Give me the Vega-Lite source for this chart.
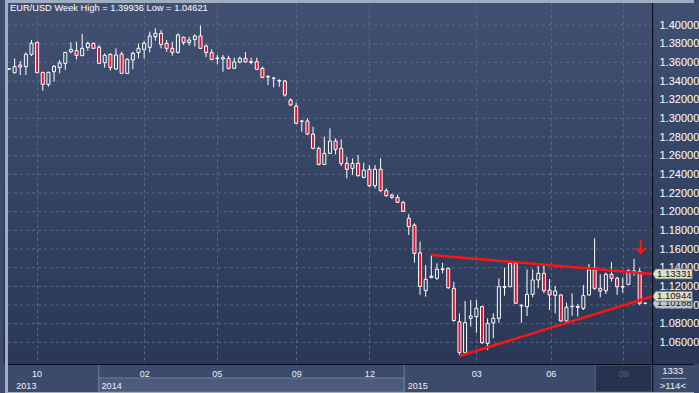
{
"$schema":"https://vega.github.io/schema/vega-lite/v6.json",
"width":696,"height":361,
"autosize":{"type":"none"},
"padding":{"left":3,"top":3,"right":0,"bottom":29},
"background":"#3c4b6b",
"config":{"view":{"stroke":null,"fill":{"gradient":"linear","x1":0,"y1":0,"x2":0,"y2":1,"stops":[{"offset":0,"color":"#415071"},{"offset":1,"color":"#2a3756"}]}},"font":"Liberation Sans",
 "axisX":{"grid":true,"gridDash":[3,3],"gridColor":"#5a6989","gridWidth":1,"ticks":false,"tickSize":0,"domain":false,"labelPadding":9,"labelBaseline":"middle","labelFontSize":9,"labelFont":"Liberation Sans","labelColor":"#eef1f7","labelFlush":false,"labelOverlap":false},
 "axisY":{"labelAlign":"left","labelBaseline":"middle","labelPadding":0,"tickSize":0,"ticks":false,"domain":false,"grid":false,"labelFontSize":11,"labelFont":"Liberation Sans","labelColor":"#ffffff","labelOverlap":false}},
"datasets":{
"k":[
{"i":0,"o":1.3527,"h":1.3533,"l":1.3525,"c":1.3531},
{"i":1,"o":1.3489,"h":1.3643,"l":1.3482,"c":1.3554},
{"i":2,"o":1.3571,"h":1.3614,"l":1.3464,"c":1.3550},
{"i":3,"o":1.3554,"h":1.3707,"l":1.3464,"c":1.3686},
{"i":4,"o":1.3686,"h":1.3839,"l":1.3668,"c":1.3804},
{"i":5,"o":1.3814,"h":1.3821,"l":1.3482,"c":1.3489},
{"i":6,"o":1.3493,"h":1.3493,"l":1.3296,"c":1.3364},
{"i":7,"o":1.3364,"h":1.3500,"l":1.3339,"c":1.3493},
{"i":8,"o":1.3500,"h":1.3571,"l":1.3393,"c":1.3557},
{"i":9,"o":1.3543,"h":1.3625,"l":1.3482,"c":1.3593},
{"i":10,"o":1.3589,"h":1.3707,"l":1.3518,"c":1.3707},
{"i":11,"o":1.3714,"h":1.3814,"l":1.3696,"c":1.3739},
{"i":12,"o":1.3725,"h":1.3821,"l":1.3632,"c":1.3675},
{"i":13,"o":1.3671,"h":1.3904,"l":1.3668,"c":1.3750},
{"i":14,"o":1.3761,"h":1.3821,"l":1.3725,"c":1.3804},
{"i":15,"o":1.3804,"h":1.3811,"l":1.3750,"c":1.3750},
{"i":16,"o":1.3761,"h":1.3786,"l":1.3582,"c":1.3589},
{"i":17,"o":1.3596,"h":1.3696,"l":1.3543,"c":1.3675},
{"i":18,"o":1.3686,"h":1.3696,"l":1.3511,"c":1.3546},
{"i":19,"o":1.3529,"h":1.3750,"l":1.3518,"c":1.3679},
{"i":20,"o":1.3689,"h":1.3714,"l":1.3482,"c":1.3482},
{"i":21,"o":1.3482,"h":1.3643,"l":1.3482,"c":1.3632},
{"i":22,"o":1.3625,"h":1.3714,"l":1.3525,"c":1.3696},
{"i":23,"o":1.3704,"h":1.3804,"l":1.3643,"c":1.3750},
{"i":24,"o":1.3739,"h":1.3829,"l":1.3643,"c":1.3804},
{"i":25,"o":1.3761,"h":1.3929,"l":1.3707,"c":1.3882},
{"i":26,"o":1.3875,"h":1.3964,"l":1.3832,"c":1.3911},
{"i":27,"o":1.3911,"h":1.3946,"l":1.3750,"c":1.3793},
{"i":28,"o":1.3804,"h":1.3839,"l":1.3714,"c":1.3750},
{"i":29,"o":1.3750,"h":1.3821,"l":1.3671,"c":1.3707},
{"i":30,"o":1.3707,"h":1.3911,"l":1.3693,"c":1.3893},
{"i":31,"o":1.3868,"h":1.3875,"l":1.3786,"c":1.3814},
{"i":32,"o":1.3814,"h":1.3875,"l":1.3779,"c":1.3839},
{"i":33,"o":1.3846,"h":1.3900,"l":1.3768,"c":1.3882},
{"i":34,"o":1.3882,"h":1.39936,"l":1.3743,"c":1.3750},
{"i":35,"o":1.3775,"h":1.3793,"l":1.3657,"c":1.3704},
{"i":36,"o":1.3704,"h":1.3739,"l":1.3621,"c":1.3632},
{"i":37,"o":1.3639,"h":1.3679,"l":1.3579,"c":1.3646},
{"i":38,"o":1.3636,"h":1.3679,"l":1.3500,"c":1.3650},
{"i":39,"o":1.3643,"h":1.3671,"l":1.3525,"c":1.3536},
{"i":40,"o":1.3536,"h":1.3650,"l":1.3529,"c":1.3604},
{"i":41,"o":1.3604,"h":1.3661,"l":1.3589,"c":1.3643},
{"i":42,"o":1.3643,"h":1.3711,"l":1.3596,"c":1.3604},
{"i":43,"o":1.3607,"h":1.3650,"l":1.3579,"c":1.3600},
{"i":44,"o":1.3607,"h":1.3650,"l":1.3518,"c":1.3525},
{"i":45,"o":1.3536,"h":1.3554,"l":1.3429,"c":1.3439},
{"i":46,"o":1.3448,"h":1.3464,"l":1.3357,"c":1.3443},
{"i":47,"o":1.3432,"h":1.3439,"l":1.3332,"c":1.3429},
{"i":48,"o":1.3407,"h":1.3418,"l":1.3339,"c":1.3400},
{"i":49,"o":1.3400,"h":1.3411,"l":1.3232,"c":1.3250},
{"i":50,"o":1.3196,"h":1.3214,"l":1.3136,"c":1.3143},
{"i":51,"o":1.3132,"h":1.3168,"l":1.2939,"c":1.2946},
{"i":52,"o":1.2971,"h":1.2982,"l":1.2857,"c":1.2968},
{"i":53,"o":1.2971,"h":1.3000,"l":1.2821,"c":1.2832},
{"i":54,"o":1.2832,"h":1.2911,"l":1.2668,"c":1.2679},
{"i":55,"o":1.2679,"h":1.2696,"l":1.2496,"c":1.2507},
{"i":56,"o":1.2507,"h":1.2804,"l":1.2500,"c":1.2625},
{"i":57,"o":1.2625,"h":1.2893,"l":1.2618,"c":1.2757},
{"i":58,"o":1.2757,"h":1.2786,"l":1.2614,"c":1.2668},
{"i":59,"o":1.2679,"h":1.2775,"l":1.2489,"c":1.2518},
{"i":60,"o":1.2518,"h":1.2589,"l":1.2357,"c":1.2454},
{"i":61,"o":1.2464,"h":1.2571,"l":1.2393,"c":1.2518},
{"i":62,"o":1.2518,"h":1.2607,"l":1.2375,"c":1.2386},
{"i":63,"o":1.2368,"h":1.2525,"l":1.2357,"c":1.2446},
{"i":64,"o":1.2454,"h":1.2500,"l":1.2261,"c":1.2279},
{"i":65,"o":1.2279,"h":1.2500,"l":1.2250,"c":1.2454},
{"i":66,"o":1.2454,"h":1.2571,"l":1.2214,"c":1.2225},
{"i":67,"o":1.2225,"h":1.2251,"l":1.2161,"c":1.2172},
{"i":68,"o":1.2177,"h":1.2193,"l":1.2136,"c":1.2154},
{"i":69,"o":1.2154,"h":1.2184,"l":1.2097,"c":1.2100},
{"i":70,"o":1.2100,"h":1.2116,"l":1.1995,"c":1.2004},
{"i":71,"o":1.1929,"h":1.1976,"l":1.1751,"c":1.1840},
{"i":72,"o":1.1856,"h":1.1876,"l":1.1454,"c":1.1554},
{"i":73,"o":1.1559,"h":1.1680,"l":1.1108,"c":1.1200},
{"i":74,"o":1.1154,"h":1.1429,"l":1.1090,"c":1.1276},
{"i":75,"o":1.1296,"h":1.1536,"l":1.1286,"c":1.1310},
{"i":76,"o":1.1286,"h":1.1447,"l":1.1269,"c":1.1383},
{"i":77,"o":1.1388,"h":1.1452,"l":1.1340,"c":1.1380},
{"i":78,"o":1.1393,"h":1.1400,"l":1.1172,"c":1.1186},
{"i":79,"o":1.1179,"h":1.1250,"l":1.0822,"c":1.0833},
{"i":80,"o":1.0822,"h":1.0911,"l":1.04621,"c":1.0490},
{"i":81,"o":1.0490,"h":1.1044,"l":1.0483,"c":1.0811},
{"i":82,"o":1.0858,"h":1.1054,"l":1.0769,"c":1.0883},
{"i":83,"o":1.0876,"h":1.1054,"l":1.0704,"c":1.0965},
{"i":84,"o":1.0983,"h":1.0990,"l":1.0583,"c":1.0597},
{"i":85,"o":1.0590,"h":1.0858,"l":1.0519,"c":1.0804},
{"i":86,"o":1.0811,"h":1.0911,"l":1.0644,"c":1.0858},
{"i":87,"o":1.0858,"h":1.1286,"l":1.0811,"c":1.1197},
{"i":88,"o":1.1190,"h":1.1400,"l":1.1100,"c":1.1197},
{"i":89,"o":1.1197,"h":1.1454,"l":1.1190,"c":1.1447},
{"i":90,"o":1.1447,"h":1.1454,"l":1.1011,"c":1.1019},
{"i":91,"o":1.0992,"h":1.1011,"l":1.0811,"c":1.0997},
{"i":92,"o":1.0983,"h":1.1383,"l":1.0883,"c":1.1115},
{"i":93,"o":1.1115,"h":1.1383,"l":1.1083,"c":1.1269},
{"i":94,"o":1.1269,"h":1.1419,"l":1.1179,"c":1.1340},
{"i":95,"o":1.1340,"h":1.1429,"l":1.1126,"c":1.1154},
{"i":96,"o":1.1161,"h":1.1279,"l":1.0947,"c":1.1108},
{"i":97,"o":1.1104,"h":1.1204,"l":1.0911,"c":1.1151},
{"i":98,"o":1.1108,"h":1.1115,"l":1.0822,"c":1.0829},
{"i":99,"o":1.0829,"h":1.1026,"l":1.0822,"c":1.0976},
{"i":100,"o":1.0983,"h":1.1126,"l":1.0883,"c":1.0987},
{"i":101,"o":1.0985,"h":1.1011,"l":1.0876,"c":1.0976},
{"i":102,"o":1.0965,"h":1.1215,"l":1.0947,"c":1.1101},
{"i":103,"o":1.1108,"h":1.1439,"l":1.1101,"c":1.1376},
{"i":104,"o":1.1376,"h":1.1715,"l":1.1161,"c":1.1179},
{"i":105,"o":1.1179,"h":1.1329,"l":1.1083,"c":1.1151},
{"i":106,"o":1.1154,"h":1.1347,"l":1.1119,"c":1.1329},
{"i":107,"o":1.1329,"h":1.1458,"l":1.1251,"c":1.1286},
{"i":108,"o":1.1286,"h":1.1304,"l":1.1108,"c":1.1197},
{"i":109,"o":1.1197,"h":1.1297,"l":1.1133,"c":1.1194},
{"i":110,"o":1.1222,"h":1.1383,"l":1.1215,"c":1.1369},
{"i":111,"o":1.1365,"h":1.1495,"l":1.1315,"c":1.1350},
{"i":112,"o":1.1358,"h":1.1394,"l":1.1001,"c":1.1019},
{"i":113,"o":1.1019,"h":1.1025,"l":1.1015,"c":1.10188}
],
"g":[{"p":1.06},{"p":1.08},{"p":1.10},{"p":1.12},{"p":1.14},{"p":1.16},{"p":1.18},{"p":1.20},{"p":1.22},{"p":1.24},{"p":1.26},{"p":1.28},{"p":1.30},{"p":1.32},{"p":1.34},{"p":1.36},{"p":1.38},{"p":1.40}],
"t":[{"line":"upper","i":75,"p":1.1536},{"line":"upper","i":114.3,"p":1.13331},{"line":"lower","i":80,"p":1.0454},{"line":"lower","i":114.3,"p":1.10944}],
"ptag":[{"p":1.10188,"label":"1.10188"}],
"ttag":[{"p":1.13331,"label":"1.13331"},{"p":1.10944,"label":"1.10944"}]
},
"layer":[
{"data":{"name":"g"},"mark":{"type":"rule","color":"#5a6989","strokeDash":[3,3],"strokeWidth":1},
 "encoding":{"x":{"datum":-0.175,"type":"quantitative","scale":{"domain":[-0.175,121.65],"nice":false,"zero":false},"axis":{"orient":"bottom","title":null,"values":[4.9,24,36.9,51,64,83,96.2,109.1],"labelExpr":"['10','02','05','09','12','03','06','09'][round(datum.index*7)]"}},
  "x2":{"datum":114.2},
  "y":{"field":"p","type":"quantitative","scale":{"domain":[1.03685,1.42357],"nice":false,"zero":false},"axis":{"orient":"right","offset":-40,"title":null,"format":".5f","values":[1.06,1.08,1.10,1.12,1.14,1.16,1.18,1.20,1.22,1.24,1.26,1.28,1.30,1.32,1.34,1.36,1.38,1.40]}}}},
{"data":{"name":"k"},"mark":{"type":"rule","color":"#ffffff","strokeWidth":1},
 "encoding":{"x":{"field":"i","type":"quantitative","scale":{"domain":[-0.175,121.65],"nice":false,"zero":false},"axis":{"orient":"bottom","title":null,"values":[4.9,24,36.9,51,64,83,96.2,109.1],"labelExpr":"['10','02','05','09','12','03','06','09'][round(datum.index*7)]"}},
  "y":{"field":"l","type":"quantitative","scale":{"domain":[1.03685,1.42357],"nice":false,"zero":false},"axis":{"orient":"right","offset":-40,"title":null,"format":".5f","values":[1.06,1.08,1.10,1.12,1.14,1.16,1.18,1.20,1.22,1.24,1.26,1.28,1.30,1.32,1.34,1.36,1.38,1.40]}},
  "y2":{"field":"h"}}},
{"data":{"name":"k"},"mark":{"type":"bar","width":3,"stroke":"#ffffff","strokeWidth":1},
 "encoding":{"x":{"field":"i","type":"quantitative","scale":{"domain":[-0.175,121.65],"nice":false,"zero":false},"axis":{"orient":"bottom","title":null,"values":[4.9,24,36.9,51,64,83,96.2,109.1],"labelExpr":"['10','02','05','09','12','03','06','09'][round(datum.index*7)]"}},
  "y":{"field":"o","type":"quantitative","scale":{"domain":[1.03685,1.42357],"nice":false,"zero":false},"axis":{"orient":"right","offset":-40,"title":null,"format":".5f","values":[1.06,1.08,1.10,1.12,1.14,1.16,1.18,1.20,1.22,1.24,1.26,1.28,1.30,1.32,1.34,1.36,1.38,1.40]}},
  "y2":{"field":"c"},
  "fill":{"condition":{"test":"datum.c < datum.o","value":"#e3122f"},"field":"o","type":"quantitative","scale":{"domain":[1.03685,1.42357],"range":["#2a3756","#415071"]},"legend":null}}},
{"data":{"name":"t"},"mark":{"type":"line","color":"#ff1414","strokeWidth":2.5},
 "encoding":{"x":{"field":"i","type":"quantitative","scale":{"domain":[-0.175,121.65],"nice":false,"zero":false},"axis":{"orient":"bottom","title":null,"values":[4.9,24,36.9,51,64,83,96.2,109.1],"labelExpr":"['10','02','05','09','12','03','06','09'][round(datum.index*7)]"}},
  "y":{"field":"p","type":"quantitative","scale":{"domain":[1.03685,1.42357],"nice":false,"zero":false},"axis":{"orient":"right","offset":-40,"title":null,"format":".5f","values":[1.06,1.08,1.10,1.12,1.14,1.16,1.18,1.20,1.22,1.24,1.26,1.28,1.30,1.32,1.34,1.36,1.38,1.40]}},
  "detail":{"field":"line"}}},
{"data":{"values":[{"i":112.2,"p":1.1629}]},"mark":{"type":"point","shape":"M0,-1L0,0.9M-0.7,0.3L0,1L0.7,0.3","size":170,"filled":false,"stroke":"#ff1414","strokeWidth":2.2,"opacity":1},
 "encoding":{"x":{"field":"i","type":"quantitative","scale":{"domain":[-0.175,121.65],"nice":false,"zero":false},"axis":{"orient":"bottom","title":null,"values":[4.9,24,36.9,51,64,83,96.2,109.1],"labelExpr":"['10','02','05','09','12','03','06','09'][round(datum.index*7)]"}},
  "y":{"field":"p","type":"quantitative","scale":{"domain":[1.03685,1.42357],"nice":false,"zero":false},"axis":{"orient":"right","offset":-40,"title":null,"format":".5f","values":[1.06,1.08,1.10,1.12,1.14,1.16,1.18,1.20,1.22,1.24,1.26,1.28,1.30,1.32,1.34,1.36,1.38,1.40]}}}},
{"data":{"name":"ptag"},"mark":{"type":"point","shape":"M-1,0L-0.825,-0.25L1,-0.25L1,0.25L-0.825,0.25Z","size":1600,"filled":true,"opacity":1,"fill":"#c3c8d4","stroke":"#5d6272","strokeWidth":0.8},
 "encoding":{"x":{"datum":117.8,"type":"quantitative","scale":{"domain":[-0.175,121.65],"nice":false,"zero":false},"axis":{"orient":"bottom","title":null,"values":[4.9,24,36.9,51,64,83,96.2,109.1],"labelExpr":"['10','02','05','09','12','03','06','09'][round(datum.index*7)]"}},
  "y":{"field":"p","type":"quantitative","scale":{"domain":[1.03685,1.42357],"nice":false,"zero":false},"axis":{"orient":"right","offset":-40,"title":null,"format":".5f","values":[1.06,1.08,1.10,1.12,1.14,1.16,1.18,1.20,1.22,1.24,1.26,1.28,1.30,1.32,1.34,1.36,1.38,1.40]}}}},
{"data":{"name":"ptag"},"mark":{"type":"text","fontSize":9.5,"font":"Liberation Sans","color":"#111111","align":"center","baseline":"middle"},
 "encoding":{"x":{"datum":118.15,"type":"quantitative","scale":{"domain":[-0.175,121.65],"nice":false,"zero":false},"axis":{"orient":"bottom","title":null,"values":[4.9,24,36.9,51,64,83,96.2,109.1],"labelExpr":"['10','02','05','09','12','03','06','09'][round(datum.index*7)]"}},
  "y":{"field":"p","type":"quantitative","scale":{"domain":[1.03685,1.42357],"nice":false,"zero":false},"axis":{"orient":"right","offset":-40,"title":null,"format":".5f","values":[1.06,1.08,1.10,1.12,1.14,1.16,1.18,1.20,1.22,1.24,1.26,1.28,1.30,1.32,1.34,1.36,1.38,1.40]}},
  "text":{"field":"label"}}},
{"data":{"name":"ttag"},"mark":{"type":"point","shape":"M-1,0L-0.825,-0.25L1,-0.25L1,0.25L-0.825,0.25Z","size":1600,"filled":true,"opacity":1,"fill":"#e2e0c4","stroke":"#5d6272","strokeWidth":0.8},
 "encoding":{"x":{"datum":117.8,"type":"quantitative","scale":{"domain":[-0.175,121.65],"nice":false,"zero":false},"axis":{"orient":"bottom","title":null,"values":[4.9,24,36.9,51,64,83,96.2,109.1],"labelExpr":"['10','02','05','09','12','03','06','09'][round(datum.index*7)]"}},
  "y":{"field":"p","type":"quantitative","scale":{"domain":[1.03685,1.42357],"nice":false,"zero":false},"axis":{"orient":"right","offset":-40,"title":null,"format":".5f","values":[1.06,1.08,1.10,1.12,1.14,1.16,1.18,1.20,1.22,1.24,1.26,1.28,1.30,1.32,1.34,1.36,1.38,1.40]}}}},
{"data":{"name":"ttag"},"mark":{"type":"text","fontSize":9.5,"font":"Liberation Sans","color":"#111111","align":"center","baseline":"middle"},
 "encoding":{"x":{"datum":118.15,"type":"quantitative","scale":{"domain":[-0.175,121.65],"nice":false,"zero":false},"axis":{"orient":"bottom","title":null,"values":[4.9,24,36.9,51,64,83,96.2,109.1],"labelExpr":"['10','02','05','09','12','03','06','09'][round(datum.index*7)]"}},
  "y":{"field":"p","type":"quantitative","scale":{"domain":[1.03685,1.42357],"nice":false,"zero":false},"axis":{"orient":"right","offset":-40,"title":null,"format":".5f","values":[1.06,1.08,1.10,1.12,1.14,1.16,1.18,1.20,1.22,1.24,1.26,1.28,1.30,1.32,1.34,1.36,1.38,1.40]}},
  "text":{"field":"label"}}},
{"data":{"values":[{"t":"EUR/USD Week High = 1.39936 Low = 1.04621"}]},"mark":{"type":"text","fontSize":9.3,"font":"Liberation Sans","color":"#ffffff","align":"left","baseline":"alphabetic"},
 "encoding":{"x":{"datum":0.175,"type":"quantitative","scale":{"domain":[-0.175,121.65],"nice":false,"zero":false},"axis":{"orient":"bottom","title":null,"values":[4.9,24,36.9,51,64,83,96.2,109.1],"labelExpr":"['10','02','05','09','12','03','06','09'][round(datum.index*7)]"}},
  "y":{"datum":1.415,"type":"quantitative","scale":{"domain":[1.03685,1.42357],"nice":false,"zero":false},"axis":{"orient":"right","offset":-40,"title":null,"format":".5f","values":[1.06,1.08,1.10,1.12,1.14,1.16,1.18,1.20,1.22,1.24,1.26,1.28,1.30,1.32,1.34,1.36,1.38,1.40]}},
  "text":{"field":"t"}}},
{"data":{"values":[{}]},"mark":{"type":"rect","fill":"#4c5c7e","stroke":"#6a799a","strokeWidth":1},
 "encoding":{"x":{"datum":15.93,"type":"quantitative","scale":{"domain":[-0.175,121.65],"nice":false,"zero":false},"axis":{"orient":"bottom","title":null,"values":[4.9,24,36.9,51,64,83,96.2,109.1],"labelExpr":"['10','02','05','09','12','03','06','09'][round(datum.index*7)]"}},
  "x2":{"datum":70.19},
  "y":{"datum":1.00686,"type":"quantitative","scale":{"domain":[1.03685,1.42357],"nice":false,"zero":false},"axis":{"orient":"right","offset":-40,"title":null,"format":".5f","values":[1.06,1.08,1.10,1.12,1.14,1.16,1.18,1.20,1.22,1.24,1.26,1.28,1.30,1.32,1.34,1.36,1.38,1.40]}},
  "y2":{"datum":1.02186}}},
{"data":{"values":[{"i":15.93},{"i":70.19}]},"mark":{"type":"rule","color":"#6a799a","strokeWidth":1},
 "encoding":{"x":{"field":"i","type":"quantitative","scale":{"domain":[-0.175,121.65],"nice":false,"zero":false},"axis":{"orient":"bottom","title":null,"values":[4.9,24,36.9,51,64,83,96.2,109.1],"labelExpr":"['10','02','05','09','12','03','06','09'][round(datum.index*7)]"}},
  "y":{"datum":1.00686,"type":"quantitative","scale":{"domain":[1.03685,1.42357],"nice":false,"zero":false},"axis":{"orient":"right","offset":-40,"title":null,"format":".5f","values":[1.06,1.08,1.10,1.12,1.14,1.16,1.18,1.20,1.22,1.24,1.26,1.28,1.30,1.32,1.34,1.36,1.38,1.40]}},
  "y2":{"datum":1.03578}}},
{"data":{"values":[{}]},"mark":{"type":"rect","fill":"#1d2843","opacity":0.72,"stroke":"#56637f","strokeWidth":1},
 "encoding":{"x":{"datum":104.15,"type":"quantitative","scale":{"domain":[-0.175,121.65],"nice":false,"zero":false},"axis":{"orient":"bottom","title":null,"values":[4.9,24,36.9,51,64,83,96.2,109.1],"labelExpr":"['10','02','05','09','12','03','06','09'][round(datum.index*7)]"}},
  "x2":{"datum":114.1},
  "y":{"datum":1.00686,"type":"quantitative","scale":{"domain":[1.03685,1.42357],"nice":false,"zero":false},"axis":{"orient":"right","offset":-40,"title":null,"format":".5f","values":[1.06,1.08,1.10,1.12,1.14,1.16,1.18,1.20,1.22,1.24,1.26,1.28,1.30,1.32,1.34,1.36,1.38,1.40]}},
  "y2":{"datum":1.03578}}},
{"data":{"values":[{"i":1.31,"t":"2013"},{"i":16.45,"t":"2014"},{"i":70.8,"t":"2015"}]},"mark":{"type":"text","fontSize":9,"font":"Liberation Sans","color":"#eef1f7","align":"left","baseline":"middle"},
 "encoding":{"x":{"field":"i","type":"quantitative","scale":{"domain":[-0.175,121.65],"nice":false,"zero":false},"axis":{"orient":"bottom","title":null,"values":[4.9,24,36.9,51,64,83,96.2,109.1],"labelExpr":"['10','02','05','09','12','03','06','09'][round(datum.index*7)]"}},
  "y":{"datum":1.01329,"type":"quantitative","scale":{"domain":[1.03685,1.42357],"nice":false,"zero":false},"axis":{"orient":"right","offset":-40,"title":null,"format":".5f","values":[1.06,1.08,1.10,1.12,1.14,1.16,1.18,1.20,1.22,1.24,1.26,1.28,1.30,1.32,1.34,1.36,1.38,1.40]}},
  "text":{"field":"t"}}},
{"data":{"values":[{"p":1.02936,"t":"1333"},{"p":1.01329,"t":">114<"}]},"mark":{"type":"text","fontSize":9.5,"font":"Liberation Sans","color":"#eef1f7","align":"center","baseline":"middle"},
 "encoding":{"x":{"datum":117.89,"type":"quantitative","scale":{"domain":[-0.175,121.65],"nice":false,"zero":false},"axis":{"orient":"bottom","title":null,"values":[4.9,24,36.9,51,64,83,96.2,109.1],"labelExpr":"['10','02','05','09','12','03','06','09'][round(datum.index*7)]"}},
  "y":{"field":"p","type":"quantitative","scale":{"domain":[1.03685,1.42357],"nice":false,"zero":false},"axis":{"orient":"right","offset":-40,"title":null,"format":".5f","values":[1.06,1.08,1.10,1.12,1.14,1.16,1.18,1.20,1.22,1.24,1.26,1.28,1.30,1.32,1.34,1.36,1.38,1.40]}},
  "text":{"field":"t"}}},
{"data":{"values":[{}]},"mark":{"type":"rule","color":"#9aa4ba","strokeWidth":1},
 "encoding":{"x":{"datum":115.87,"type":"quantitative","scale":{"domain":[-0.175,121.65],"nice":false,"zero":false},"axis":{"orient":"bottom","title":null,"values":[4.9,24,36.9,51,64,83,96.2,109.1],"labelExpr":"['10','02','05','09','12','03','06','09'][round(datum.index*7)]"}},
  "x2":{"datum":120.25},
  "y":{"datum":1.02132,"type":"quantitative","scale":{"domain":[1.03685,1.42357],"nice":false,"zero":false},"axis":{"orient":"right","offset":-40,"title":null,"format":".5f","values":[1.06,1.08,1.10,1.12,1.14,1.16,1.18,1.20,1.22,1.24,1.26,1.28,1.30,1.32,1.34,1.36,1.38,1.40]}}}},
{"data":{"values":[{}]},"mark":{"type":"rect","fill":"#0b0f18"},
 "encoding":{"x":{"datum":-0.175,"type":"quantitative","scale":{"domain":[-0.175,121.65],"nice":false,"zero":false},"axis":{"orient":"bottom","title":null,"values":[4.9,24,36.9,51,64,83,96.2,109.1],"labelExpr":"['10','02','05','09','12','03','06','09'][round(datum.index*7)]"}},
  "x2":{"datum":121.65},
  "y":{"datum":1.03578,"type":"quantitative","scale":{"domain":[1.03685,1.42357],"nice":false,"zero":false},"axis":{"orient":"right","offset":-40,"title":null,"format":".5f","values":[1.06,1.08,1.10,1.12,1.14,1.16,1.18,1.20,1.22,1.24,1.26,1.28,1.30,1.32,1.34,1.36,1.38,1.40]}},
  "y2":{"datum":1.03685}}},
{"data":{"values":[{}]},"mark":{"type":"rect","fill":"#0b0f18"},
 "encoding":{"x":{"datum":114.2,"type":"quantitative","scale":{"domain":[-0.175,121.65],"nice":false,"zero":false},"axis":{"orient":"bottom","title":null,"values":[4.9,24,36.9,51,64,83,96.2,109.1],"labelExpr":"['10','02','05','09','12','03','06','09'][round(datum.index*7)]"}},
  "x2":{"datum":114.4},
  "y":{"datum":1.00686,"type":"quantitative","scale":{"domain":[1.03685,1.42357],"nice":false,"zero":false},"axis":{"orient":"right","offset":-40,"title":null,"format":".5f","values":[1.06,1.08,1.10,1.12,1.14,1.16,1.18,1.20,1.22,1.24,1.26,1.28,1.30,1.32,1.34,1.36,1.38,1.40]}},
  "y2":{"datum":1.42357}}},
{"data":{"values":[{"a":-0.70,"b":-0.175,"lo":1.00579,"hi":1.42678},{"a":-0.70,"b":121.65,"lo":1.42357,"hi":1.42678},{"a":-0.70,"b":121.65,"lo":1.00579,"hi":1.00686}]},"mark":{"type":"rect","fill":"#a3adc0"},
 "encoding":{"x":{"field":"a","type":"quantitative","scale":{"domain":[-0.175,121.65],"nice":false,"zero":false},"axis":{"orient":"bottom","title":null,"values":[4.9,24,36.9,51,64,83,96.2,109.1],"labelExpr":"['10','02','05','09','12','03','06','09'][round(datum.index*7)]"}},
  "x2":{"field":"b"},
  "y":{"field":"lo","type":"quantitative","scale":{"domain":[1.03685,1.42357],"nice":false,"zero":false},"axis":{"orient":"right","offset":-40,"title":null,"format":".5f","values":[1.06,1.08,1.10,1.12,1.14,1.16,1.18,1.20,1.22,1.24,1.26,1.28,1.30,1.32,1.34,1.36,1.38,1.40]}},
  "y2":{"field":"hi"}}}
]
}
